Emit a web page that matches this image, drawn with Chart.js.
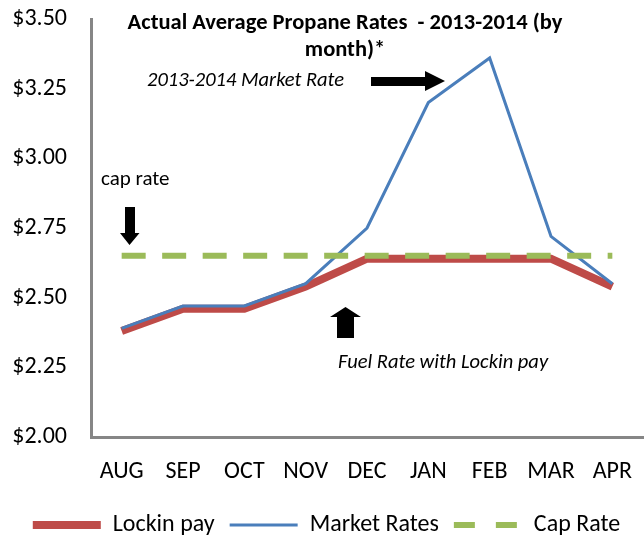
<!DOCTYPE html>
<html>
<head>
<meta charset="utf-8">
<title>Actual Average Propane Rates</title>
<script src="https://cdn.jsdelivr.net/npm/chart.js@4.4.0/dist/chart.umd.min.js"></script>
<style>
  body { margin: 0; background: #fff; }
  .wrap { position: relative; width: 644px; height: 537px; }
</style>
</head>
<body>
<div class="wrap"><canvas id="rates"></canvas></div>
<script>
var FONT = 'Carlito, Lato, sans-serif';

var months = ['AUG', 'SEP', 'OCT', 'NOV', 'DEC', 'JAN', 'FEB', 'MAR', 'APR'];
var lockinPay = [2.38, 2.46, 2.46, 2.54, 2.64, 2.64, 2.64, 2.64, 2.54];
var marketRates = [2.39, 2.47, 2.47, 2.55, 2.75, 3.20, 3.36, 2.72, 2.55];
var capRate = [2.65, 2.65, 2.65, 2.65, 2.65, 2.65, 2.65, 2.65, 2.65];

var RED = '#BE4B48';
var BLUE = '#4A7EBB';
var GREEN = '#9BBB59';
var AXIS = '#868686';

function arrow(ctx, pts) {
    ctx.beginPath();
    ctx.moveTo(pts[0][0], pts[0][1]);
    for (var i = 1; i < pts.length; i++) ctx.lineTo(pts[i][0], pts[i][1]);
    ctx.closePath();
    ctx.fill();
}

// title + hand-placed notes
var notes = {
    id: 'notes',
    afterDraw: function (chart) {
        var ctx = chart.ctx;
        ctx.save();
        ctx.fillStyle = '#000';
        ctx.textBaseline = 'middle';
        ctx.textAlign = 'center';
        ctx.font = 'bold 22.5px ' + FONT;
        ctx.fillText('Actual Average Propane Rates  - 2013-2014 (by', 345, 23);
        ctx.fillText('month)*', 345, 50);

        ctx.textAlign = 'left';
        ctx.font = 'italic 20.5px ' + FONT;
        ctx.fillText('2013-2014 Market Rate', 147, 81);
        ctx.fillText('Fuel Rate with Lockin pay', 338, 363);
        ctx.font = '21px ' + FONT;
        ctx.fillText('cap rate', 101, 180);

        // right arrow
        arrow(ctx, [[371, 77], [425, 77], [425, 71], [445, 81], [425, 91], [425, 86], [371, 86]]);
        // down arrow
        arrow(ctx, [[125, 207], [135, 207], [135, 233], [139.5, 233], [129.5, 245], [120, 233], [125, 233]]);
        // up arrow
        arrow(ctx, [[345.5, 307], [361, 317], [354, 317], [354, 338], [337, 338], [337, 317], [330, 317]]);
        ctx.restore();
    }
};

new Chart(document.getElementById('rates'), {
    type: 'line',
    data: {
        labels: months,
        datasets: [
            {
                label: 'Lockin pay',
                data: lockinPay,
                borderColor: RED,
                backgroundColor: RED,
                borderWidth: 8,
                pointRadius: 0,
                tension: 0,
                order: 3
            },
            {
                label: 'Market Rates',
                data: marketRates,
                borderColor: BLUE,
                backgroundColor: BLUE,
                borderWidth: 3,
                pointRadius: 0,
                tension: 0,
                order: 2
            },
            {
                label: 'Cap Rate',
                data: capRate,
                borderColor: GREEN,
                backgroundColor: GREEN,
                borderWidth: 6,
                borderDash: [24, 16.5],
                pointRadius: 0,
                tension: 0,
                order: 1
            }
        ]
    },
    options: {
        responsive: true,
        maintainAspectRatio: false,
        animation: false,
        layout: { padding: { left: 10, right: 1, top: 19, bottom: -10 } },
        scales: {
            x: {
                offset: true,
                grid: { display: false, drawTicks: false },
                border: { color: AXIS, width: 3 },
                afterFit: function (scale) {
                    scale.height = 61;
                    scale.paddingLeft = 0;
                    scale.paddingRight = 0;
                },
                ticks: { color: '#000', font: { family: FONT, size: 24 }, padding: 21, maxRotation: 0, autoSkip: false }
            },
            y: {
                min: 2,
                max: 3.5,
                grid: { display: false, drawTicks: false },
                border: { color: AXIS, width: 3 },
                afterFit: function (scale) {
                    scale.width = 81;
                    scale.paddingTop = 0;
                    scale.paddingBottom = 0;
                },
                ticks: {
                    stepSize: 0.25,
                    color: '#000',
                    padding: 24,
                    font: { family: FONT, size: 24 },
                    callback: function (v) { return '$' + Number(v).toFixed(2); }
                }
            }
        },
        plugins: {
            tooltip: { enabled: false },
            legend: {
                position: 'bottom',
                labels: {
                    color: '#000',
                    font: { family: FONT, size: 24 },
                    usePointStyle: true,
                    pointStyleWidth: 68,
                    padding: 15,
                    generateLabels: function (chart) {
                        return chart.data.datasets.map(function (ds, i) {
                            return {
                                text: ds.label,
                                datasetIndex: i,
                                pointStyle: 'line',
                                strokeStyle: ds.borderColor,
                                fillStyle: ds.borderColor,
                                lineWidth: ds.borderWidth,
                                lineDash: i === 2 ? [21, 21] : [],
                                lineCap: 'butt',
                                fontColor: '#000',
                                hidden: false
                            };
                        });
                    }
                }
            }
        }
    },
    plugins: [notes]
});
</script>
</body>
</html>
